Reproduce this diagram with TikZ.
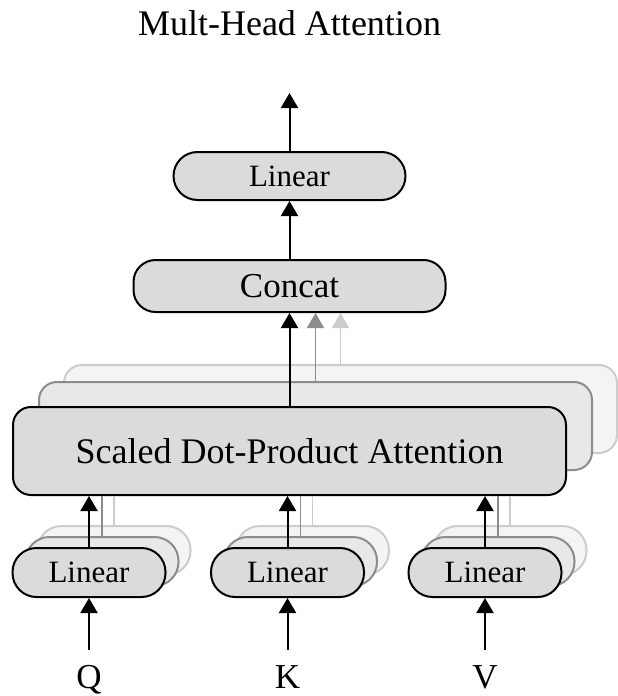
\documentclass[tikz,border=0pt]{standalone}
\usepackage{fontspec}
\setmainfont{Liberation Serif}
\usetikzlibrary{arrows.meta}
\definecolor{fillA}{gray}{0.86}
\definecolor{fillB}{gray}{0.91}
\definecolor{fillC}{gray}{0.955}
\definecolor{lineB}{gray}{0.55}
\definecolor{lineC}{gray}{0.80}
\begin{document}
\begin{tikzpicture}[x=1pt,y=-1pt,line join=round,
	layerA/.style={draw=black,line width=2pt,fill=fillA,inner sep=0pt},
	layerB/.style={draw=lineB,line width=2pt,fill=fillB,inner sep=0pt},
	layerC/.style={draw=lineC,line width=2pt,fill=fillC,inner sep=0pt},
	sdpabox/.style={minimum width=553pt,minimum height=88pt,rounded corners=18pt},
	linbox/.style={minimum width=153pt,minimum height=49pt,rounded corners=24pt},
	arr/.style={line width=2pt,-{Triangle[length=15pt,width=17pt]}},
	arrB/.style={arr,draw=lineB,fill=lineB},
	arrC/.style={arr,draw=lineC,fill=lineC},
	inp/.style={anchor=base,inner sep=15pt,font=\fontsize{35}{40}\selectfont}]
	%==thông số
	\def\cx{289.5}
	\def\ly{572.5}
	%==============
	\useasboundingbox (0,0) rectangle (618,696);
	\node[anchor=base,font=\fontsize{36}{40}\selectfont] (title) at (\cx,35) {Mult-Head Attention};
	%==khối attention
	\node[layerC,sdpabox] (sdpa3) at (\cx+51,451-42) {};
	\node[layerB,sdpabox] (sdpa2) at (\cx+26,451-25) {};
	\node[layerA,sdpabox,font=\fontsize{36}{40}\selectfont] (sdpa) at (\cx,451) {Scaled Dot-Product Attention};
	\node[layerA,minimum width=312pt,minimum height=52pt,rounded corners=22pt,font=\fontsize{35}{40}\selectfont] (concat) at (\cx,286) {Concat};
	\node[layerA,minimum width=232pt,minimum height=48pt,rounded corners=24pt,font=\fontsize{31}{36}\selectfont] (lintop) at (\cx,176) {Linear};
	\coordinate (out) at (\cx,93);
	%==ba nhánh Q K V
	\foreach \x/\n/\t in {89/q/Q,287.5/k/K,485/v/V}{
		\node[layerC,linbox] (lin\n3) at (\x+25,\ly-22) {};
		\node[layerB,linbox] (lin\n2) at (\x+13,\ly-11) {};
		\node[layerA,linbox,font=\fontsize{31}{36}\selectfont] (lin\n) at (\x,\ly) {Linear};
		\node[inp] (\n) at (\x,688) {\t};
		\draw[lineC,line width=1.5pt] (lin\n3.north) -- (lin\n3.north |- sdpa.south);
		\draw[lineB,line width=1.5pt] (lin\n2.north) -- (lin\n2.north |- sdpa.south);
		\draw[arr] (lin\n) -- (lin\n |- sdpa.south);
		\draw[arr] (\n) -- (lin\n);
	}
	%==nối lên trên
	\draw[arrC,line width=1.5pt] (sdpa3.north) -- (sdpa3.north |- concat.south);
	\draw[arrB,line width=1.5pt] (sdpa2.north) -- (sdpa2.north |- concat.south);
	\draw[arr] (sdpa) -- (concat);
	\draw[arr] (concat) -- (lintop);
	\draw[arr] (lintop) -- (out);
\end{tikzpicture}
\end{document}
